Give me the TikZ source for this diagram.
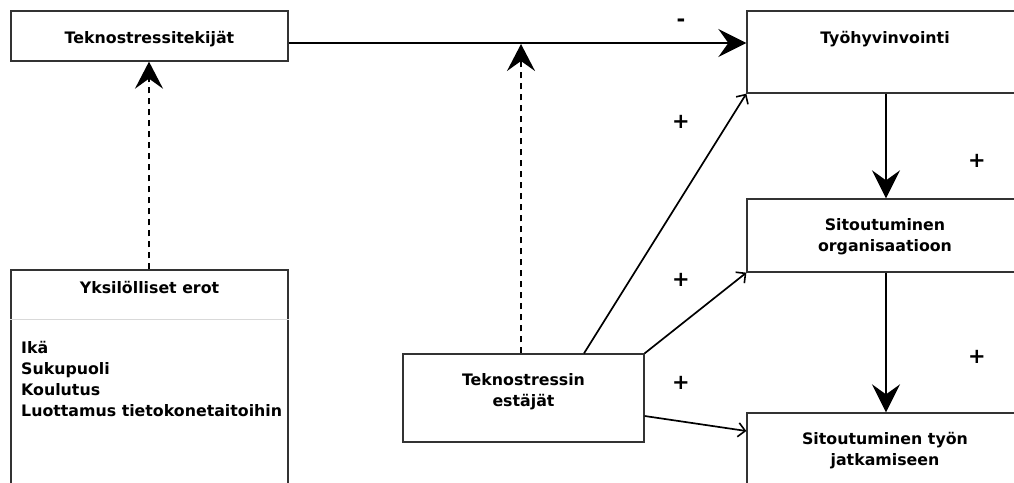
\documentclass[tikz,border=0pt]{standalone}
\usepackage{fontspec}
\setmainfont{DejaVu Sans}
\usetikzlibrary{arrows.meta}
\tikzset{
  box/.style={draw=black!80, line width=1.3pt, fill=white, inner sep=0pt},
  lbl/.style={font=\bfseries\fontsize{15.8pt}{21pt}\selectfont, align=center, inner sep=0pt},
  big/.style={line width=2pt, -{Stealth[length=28pt,width=28pt,inset=10pt]}},
  dsh/.style={line width=2pt, dash pattern=on 6pt off 5pt, -{Stealth[length=27pt,width=28pt,inset=10pt]}},
  thin/.style={line width=1.7pt, -{Straight Barb[length=7pt,width=14pt,line width=1.6pt]}},
  sign/.style={font=\bfseries\fontsize{21pt}{21pt}\selectfont, inner sep=0pt},
}
\begin{document}
\begin{tikzpicture}[x=1pt,y=-1pt]
\useasboundingbox (0,0) rectangle (1014,482);
\clip (0,0) rectangle (1014,482);
% boxes
\node[box, minimum width=277pt, minimum height=50pt] (tek) at (149.5,36) {};
\node[lbl] (tekt) at (149.5,39) {Teknostressitekijät};
\node[box, minimum width=277pt, minimum height=225pt] (yks) at (149.5,382.5) {};
\node[lbl] (ykst) at (149.5,287) {Yksilölliset erot};
\draw[black!15, line width=0.8pt] (yks.west |- 0,319) coordinate (sepl) -- (yks.east |- 0,319) coordinate (sepr);
\node[lbl, align=left, anchor=north west] (lista) at (21,341) {Ikä\\Sukupuoli\\Koulutus\\Luottamus tietokonetaitoihin};
\node[box, minimum width=241pt, minimum height=88pt] (est) at (523.5,398) {};
\node[lbl] (estt) at (523.5,392) {Teknostressin\\estäjät};
\node[box, minimum width=276pt, minimum height=82pt] (tyo) at (885,52) {};
\node[lbl] (tyot) at (885,39) {Työhyvinvointi};
\node[box, minimum width=276pt, minimum height=73pt] (org) at (885,235.5) {};
\node[lbl] (orgt) at (885,237) {Sitoutuminen\\organisaatioon};
\node[box, minimum width=276pt, minimum height=87pt] (jat) at (885,456.5) {};
\node[lbl] (jatt) at (885,451) {Sitoutuminen työn\\jatkamiseen};
% connectors
\coordinate (ml) at (0,43);
\coordinate (mj) at (521,44);
\coordinate (lx) at (149,0);
\coordinate (vx) at (886,0);
\draw[big] (tek.east |- ml) -- (tyo.west |- ml);
\draw[dsh] (yks.north -| lx) -- (tek.south -| lx);
\draw[dsh] (est.north -| mj) -- (mj);
\coordinate (d1) at (584,354);
\draw[thin] (est.north -| d1) -- (tyo.south west);
\draw[thin] (est.north east) -- (org.south west);
\coordinate (d3) at (644,416);
\coordinate (d3e) at (747,431);
\draw[thin] (est.east |- d3) -- (jat.west |- d3e);
\draw[big] (tyo.south -| vx) -- (org.north -| vx);
\draw[big] (org.south -| vx) -- (jat.north -| vx);
% signs
\node[sign] (m1) at (681,23) {-};
\node[sign] (p1) at (681,122) {+};
\node[sign] (p2) at (977,161) {+};
\node[sign] (p3) at (681,280) {+};
\node[sign] (p4) at (977,357) {+};
\node[sign] (p5) at (681,383) {+};
\end{tikzpicture}
\end{document}
